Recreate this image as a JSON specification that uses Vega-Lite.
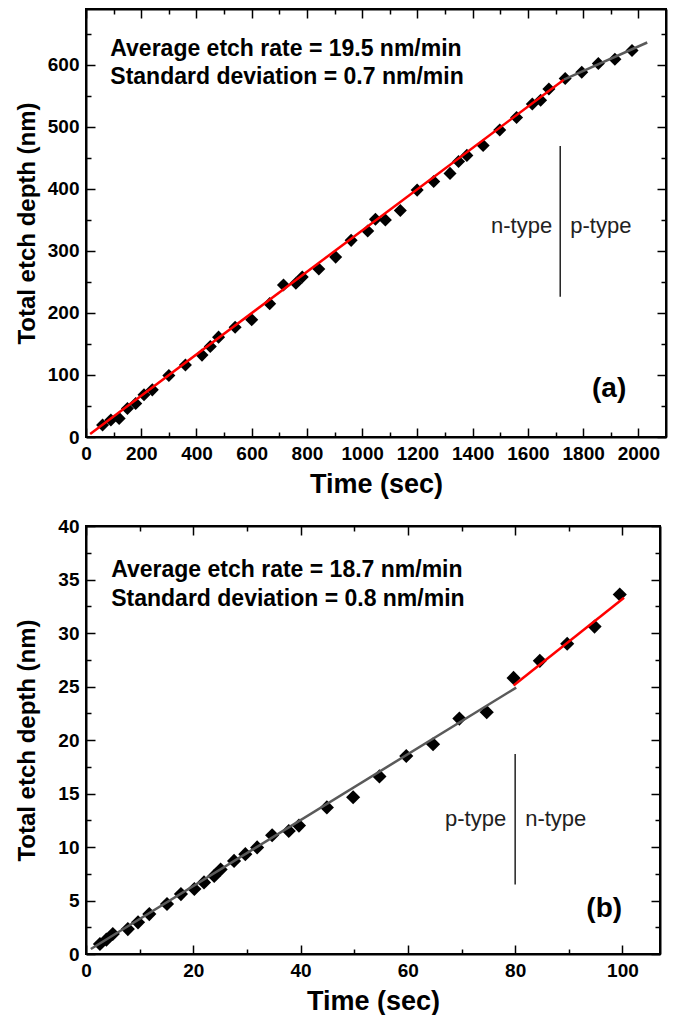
{
  "$schema": "https://vega.github.io/schema/vega-lite/v6.json",
  "background": "white",
  "padding": {"left": 14, "top": 7, "right": 8, "bottom": 0},
  "spacing": 18,
  "config": {
    "view": {"stroke": "black", "strokeWidth": 2},
    "font": "Liberation Sans",
    "axis": {
      "grid": false, "domain": true, "domainColor": "black", "domainWidth": 2,
      "tickColor": "black", "tickWidth": 1.5, "format": "d",
      "labelFont": "Liberation Sans", "labelFontWeight": "bold", "labelFontSize": 19, "labelColor": "black",
      "labelOverlap": false, "labelFlush": false, "labelBound": false,
      "titleFont": "Liberation Sans", "titleFontWeight": "bold", "titleColor": "black"
    }
  },
  "datasets": {
    "ptsA": [
      {"t": 60, "d": 19.5}, {"t": 90, "d": 27.5}, {"t": 120, "d": 30}, {"t": 150, "d": 46},
      {"t": 180, "d": 54}, {"t": 210, "d": 68}, {"t": 240, "d": 76}, {"t": 300, "d": 99},
      {"t": 360, "d": 116}, {"t": 420, "d": 132}, {"t": 450, "d": 146}, {"t": 480, "d": 161},
      {"t": 540, "d": 177}, {"t": 600, "d": 189}, {"t": 665, "d": 215}, {"t": 715, "d": 245},
      {"t": 760, "d": 248}, {"t": 783, "d": 258}, {"t": 843, "d": 271}, {"t": 904, "d": 290},
      {"t": 960, "d": 317}, {"t": 1020, "d": 332}, {"t": 1048, "d": 351}, {"t": 1084, "d": 350},
      {"t": 1138, "d": 365}, {"t": 1199, "d": 398}, {"t": 1259, "d": 412}, {"t": 1318, "d": 425},
      {"t": 1349, "d": 444}, {"t": 1379, "d": 454}, {"t": 1438, "d": 470}, {"t": 1498, "d": 495},
      {"t": 1559, "d": 515}, {"t": 1616, "d": 537}, {"t": 1646, "d": 543}, {"t": 1676, "d": 561},
      {"t": 1735, "d": 578}, {"t": 1795, "d": 588}, {"t": 1855, "d": 602}, {"t": 1915, "d": 609},
      {"t": 1977, "d": 623}
    ],
    "linesA": [
      {"seg": "fit", "t": 15, "d": 5}, {"seg": "fit", "t": 1730, "d": 576},
      {"seg": "ext", "t": 1730, "d": 576}, {"seg": "ext", "t": 2032, "d": 636}
    ],
    "ptsB": [
      {"t": 2.6, "d": 0.93}, {"t": 3.8, "d": 1.34}, {"t": 5.0, "d": 1.87}, {"t": 7.8, "d": 2.33},
      {"t": 9.7, "d": 2.96}, {"t": 11.8, "d": 3.73}, {"t": 15.1, "d": 4.67}, {"t": 17.7, "d": 5.6},
      {"t": 20.2, "d": 6.07}, {"t": 22.0, "d": 6.69}, {"t": 23.9, "d": 7.3}, {"t": 25.1, "d": 7.9},
      {"t": 27.6, "d": 8.7}, {"t": 29.7, "d": 9.33}, {"t": 31.9, "d": 9.96}, {"t": 34.7, "d": 11.1},
      {"t": 37.8, "d": 11.5}, {"t": 39.7, "d": 12.0}, {"t": 44.9, "d": 13.7}, {"t": 49.8, "d": 14.65},
      {"t": 54.7, "d": 16.6}, {"t": 59.7, "d": 18.5}, {"t": 64.7, "d": 19.6}, {"t": 69.6, "d": 22.0},
      {"t": 74.7, "d": 22.6}, {"t": 79.7, "d": 25.8}, {"t": 84.6, "d": 27.4}, {"t": 89.7, "d": 29.0},
      {"t": 94.8, "d": 30.6}, {"t": 99.5, "d": 33.6}
    ],
    "linesB": [
      {"seg": "ext", "t": 0.9, "d": 0.47}, {"seg": "ext", "t": 80.2, "d": 24.9},
      {"seg": "fit", "t": 79.7, "d": 25.1}, {"seg": "fit", "t": 100.3, "d": 33.3}
    ]
  },
  "vconcat": [
    {
      "width": 580,
      "height": 428,
      "layer": [
        {
          "data": {"name": "ptsA"},
          "mark": {"type": "point", "shape": "diamond", "filled": true, "color": "black", "opacity": 1, "size": 170},
          "encoding": {
            "x": {"field": "t", "type": "quantitative", "scale": {"domain": [0, 2100], "nice": false, "zero": false},
              "axis": {"orient": "bottom", "values": [0,100,200,300,400,500,600,700,800,900,1000,1100,1200,1300,1400,1500,1600,1700,1800,1900,2000],
                "labelExpr": "datum.value % 200 === 0 ? datum.label : ''",
                "tickSize": {"condition": {"test": "datum.value % 200 === 0", "value": -9}, "value": -5},
                "labelPadding": 16, "title": "Time (sec)", "titleFontSize": 27, "titlePadding": 4}},
            "y": {"field": "d", "type": "quantitative", "scale": {"domain": [0, 690], "nice": false, "zero": false},
              "axis": {"orient": "left", "values": [0,50,100,150,200,250,300,350,400,450,500,550,600,650],
                "labelExpr": "datum.value % 100 === 0 ? datum.label : ''",
                "tickSize": {"condition": {"test": "datum.value % 100 === 0", "value": -9}, "value": -5},
                "labelPadding": 16, "title": "Total etch depth (nm)", "titleFontSize": 24, "titlePadding": 8}}
          }
        },
        {
          "data": {"name": "linesA"},
          "mark": {"type": "line", "strokeWidth": 2.5},
          "encoding": {
            "x": {"field": "t", "type": "quantitative", "scale": {"domain": [0, 2100], "nice": false, "zero": false}, "axis": null},
            "y": {"field": "d", "type": "quantitative", "scale": {"domain": [0, 690], "nice": false, "zero": false}, "axis": null},
            "color": {"field": "seg", "type": "nominal", "scale": {"domain": ["fit", "ext"], "range": ["#ff0000", "#5a5a5a"]}, "legend": null}
          }
        },
        {
          "data": {"values": [{"t": 1717, "d1": 226, "d2": 469}]},
          "mark": {"type": "rule", "color": "#222222", "strokeWidth": 1.5},
          "encoding": {
            "x": {"field": "t", "type": "quantitative", "scale": {"domain": [0, 2100], "nice": false, "zero": false},
              "axis": {"orient": "top", "labels": false, "title": null, "values": [0,100,200,300,400,500,600,700,800,900,1000,1100,1200,1300,1400,1500,1600,1700,1800,1900,2000],
                "tickSize": {"condition": {"test": "datum.value % 200 === 0", "value": -9}, "value": -5}}},
            "y": {"field": "d1", "type": "quantitative", "scale": {"domain": [0, 690], "nice": false, "zero": false},
              "axis": {"orient": "right", "labels": false, "title": null, "values": [0,50,100,150,200,250,300,350,400,450,500,550,600,650],
                "tickSize": {"condition": {"test": "datum.value % 100 === 0", "value": -9}, "value": -5}}},
            "y2": {"field": "d2"}
          }
        },
        {
          "data": {"values": [{"t": 1717, "d": 340, "label": "n-type"}]},
          "mark": {"type": "text", "align": "right", "baseline": "middle", "dx": -8, "fontSize": 22, "color": "#222222", "font": "Liberation Sans"},
          "encoding": {
            "x": {"field": "t", "type": "quantitative", "scale": {"domain": [0, 2100], "nice": false, "zero": false}, "axis": null},
            "y": {"field": "d", "type": "quantitative", "scale": {"domain": [0, 690], "nice": false, "zero": false}, "axis": null},
            "text": {"field": "label"}
          }
        },
        {
          "data": {"values": [{"t": 1717, "d": 340, "label": "p-type"}]},
          "mark": {"type": "text", "align": "left", "baseline": "middle", "dx": 10, "fontSize": 22, "color": "#222222", "font": "Liberation Sans"},
          "encoding": {
            "x": {"field": "t", "type": "quantitative", "scale": {"domain": [0, 2100], "nice": false, "zero": false}, "axis": null},
            "y": {"field": "d", "type": "quantitative", "scale": {"domain": [0, 690], "nice": false, "zero": false}, "axis": null},
            "text": {"field": "label"}
          }
        },
        {
          "data": {"values": [
            {"t": 88, "d": 626, "label": "Average etch rate = 19.5 nm/min"},
            {"t": 88, "d": 580, "label": "Standard deviation = 0.7 nm/min"}
          ]},
          "mark": {"type": "text", "align": "left", "baseline": "middle", "fontSize": 23, "fontWeight": "bold", "color": "black", "font": "Liberation Sans"},
          "encoding": {
            "x": {"field": "t", "type": "quantitative", "scale": {"domain": [0, 2100], "nice": false, "zero": false}, "axis": null},
            "y": {"field": "d", "type": "quantitative", "scale": {"domain": [0, 690], "nice": false, "zero": false}, "axis": null},
            "text": {"field": "label"}
          }
        },
        {
          "data": {"values": [{"t": 1894, "d": 78, "label": "(a)"}]},
          "mark": {"type": "text", "align": "center", "baseline": "middle", "fontSize": 28, "fontWeight": "bold", "color": "black", "font": "Liberation Sans"},
          "encoding": {
            "x": {"field": "t", "type": "quantitative", "scale": {"domain": [0, 2100], "nice": false, "zero": false}, "axis": null},
            "y": {"field": "d", "type": "quantitative", "scale": {"domain": [0, 690], "nice": false, "zero": false}, "axis": null},
            "text": {"field": "label"}
          }
        }
      ]
    },
    {
      "width": 574,
      "height": 428,
      "layer": [
        {
          "data": {"name": "ptsB"},
          "mark": {"type": "point", "shape": "diamond", "filled": true, "color": "black", "opacity": 1, "size": 200},
          "encoding": {
            "x": {"field": "t", "type": "quantitative", "scale": {"domain": [0, 107], "nice": false, "zero": false},
              "axis": {"orient": "bottom", "values": [0,10,20,30,40,50,60,70,80,90,100],
                "labelExpr": "datum.value % 20 === 0 ? datum.label : ''",
                "tickSize": {"condition": {"test": "datum.value % 20 === 0", "value": -9}, "value": -5},
                "labelPadding": 16, "title": "Time (sec)", "titleFontSize": 27, "titlePadding": 4}},
            "y": {"field": "d", "type": "quantitative", "scale": {"domain": [0, 40], "nice": false, "zero": false},
              "axis": {"orient": "left", "values": [0,2.5,5,7.5,10,12.5,15,17.5,20,22.5,25,27.5,30,32.5,35,37.5,40],
                "labelExpr": "datum.value % 5 === 0 ? datum.label : ''",
                "tickSize": {"condition": {"test": "datum.value % 5 === 0", "value": -9}, "value": -5},
                "labelPadding": 16, "title": "Total etch depth (nm)", "titleFontSize": 24, "titlePadding": 18}}
          }
        },
        {
          "data": {"name": "linesB"},
          "mark": {"type": "line", "strokeWidth": 2.5},
          "encoding": {
            "x": {"field": "t", "type": "quantitative", "scale": {"domain": [0, 107], "nice": false, "zero": false}, "axis": null},
            "y": {"field": "d", "type": "quantitative", "scale": {"domain": [0, 40], "nice": false, "zero": false}, "axis": null},
            "color": {"field": "seg", "type": "nominal", "scale": {"domain": ["fit", "ext"], "range": ["#ff0000", "#5a5a5a"]}, "legend": null}
          }
        },
        {
          "data": {"values": [{"t": 80, "d1": 6.5, "d2": 18.7}]},
          "mark": {"type": "rule", "color": "#222222", "strokeWidth": 1.5},
          "encoding": {
            "x": {"field": "t", "type": "quantitative", "scale": {"domain": [0, 107], "nice": false, "zero": false},
              "axis": {"orient": "top", "labels": false, "title": null, "values": [0,10,20,30,40,50,60,70,80,90,100],
                "tickSize": {"condition": {"test": "datum.value % 20 === 0", "value": -9}, "value": -5}}},
            "y": {"field": "d1", "type": "quantitative", "scale": {"domain": [0, 40], "nice": false, "zero": false},
              "axis": {"orient": "right", "labels": false, "title": null, "values": [0,2.5,5,7.5,10,12.5,15,17.5,20,22.5,25,27.5,30,32.5,35,37.5,40],
                "tickSize": {"condition": {"test": "datum.value % 5 === 0", "value": -9}, "value": -5}}},
            "y2": {"field": "d2"}
          }
        },
        {
          "data": {"values": [{"t": 80, "d": 12.6, "label": "p-type"}]},
          "mark": {"type": "text", "align": "right", "baseline": "middle", "dx": -9, "fontSize": 22, "color": "#222222", "font": "Liberation Sans"},
          "encoding": {
            "x": {"field": "t", "type": "quantitative", "scale": {"domain": [0, 107], "nice": false, "zero": false}, "axis": null},
            "y": {"field": "d", "type": "quantitative", "scale": {"domain": [0, 40], "nice": false, "zero": false}, "axis": null},
            "text": {"field": "label"}
          }
        },
        {
          "data": {"values": [{"t": 80, "d": 12.6, "label": "n-type"}]},
          "mark": {"type": "text", "align": "left", "baseline": "middle", "dx": 10, "fontSize": 22, "color": "#222222", "font": "Liberation Sans"},
          "encoding": {
            "x": {"field": "t", "type": "quantitative", "scale": {"domain": [0, 107], "nice": false, "zero": false}, "axis": null},
            "y": {"field": "d", "type": "quantitative", "scale": {"domain": [0, 40], "nice": false, "zero": false}, "axis": null},
            "text": {"field": "label"}
          }
        },
        {
          "data": {"values": [
            {"t": 4.7, "d": 35.9, "label": "Average etch rate = 18.7 nm/min"},
            {"t": 4.7, "d": 33.2, "label": "Standard deviation = 0.8 nm/min"}
          ]},
          "mark": {"type": "text", "align": "left", "baseline": "middle", "fontSize": 23, "fontWeight": "bold", "color": "black", "font": "Liberation Sans"},
          "encoding": {
            "x": {"field": "t", "type": "quantitative", "scale": {"domain": [0, 107], "nice": false, "zero": false}, "axis": null},
            "y": {"field": "d", "type": "quantitative", "scale": {"domain": [0, 40], "nice": false, "zero": false}, "axis": null},
            "text": {"field": "label"}
          }
        },
        {
          "data": {"values": [{"t": 96.6, "d": 4.2, "label": "(b)"}]},
          "mark": {"type": "text", "align": "center", "baseline": "middle", "fontSize": 28, "fontWeight": "bold", "color": "black", "font": "Liberation Sans"},
          "encoding": {
            "x": {"field": "t", "type": "quantitative", "scale": {"domain": [0, 107], "nice": false, "zero": false}, "axis": null},
            "y": {"field": "d", "type": "quantitative", "scale": {"domain": [0, 40], "nice": false, "zero": false}, "axis": null},
            "text": {"field": "label"}
          }
        }
      ]
    }
  ]
}
